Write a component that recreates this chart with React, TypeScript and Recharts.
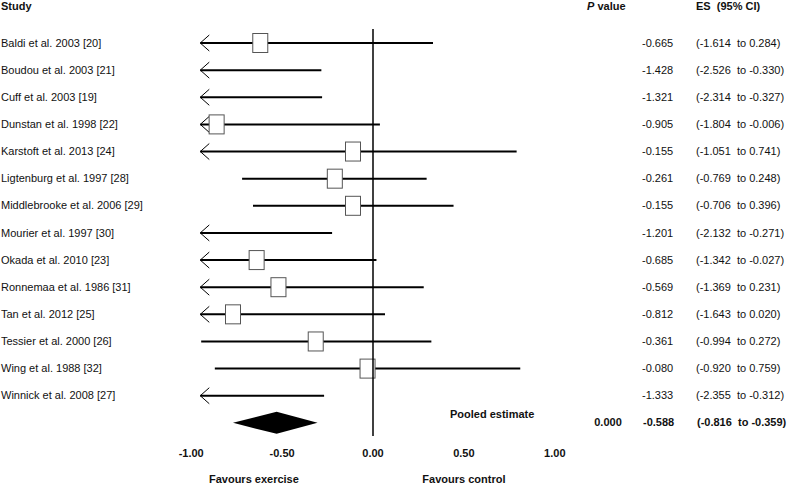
import React from 'react';
import { ComposedChart, Bar, XAxis, YAxis, ReferenceLine } from 'recharts';

const studies = [
  'Baldi et al. 2003 [20]',
  'Boudou et al. 2003 [21]',
  'Cuff et al. 2003 [19]',
  'Dunstan et al. 1998 [22]',
  'Karstoft et al. 2013 [24]',
  'Ligtenburg et al. 1997 [28]',
  'Middlebrooke et al. 2006 [29]',
  'Mourier et al. 1997 [30]',
  'Okada et al. 2010 [23]',
  'Ronnemaa et al. 1986 [31]',
  'Tan et al. 2012 [25]',
  'Tessier et al. 2000 [26]',
  'Wing et al. 1988 [32]',
  'Winnick et al. 2008 [27]',
];

const esLabels = [
  '-0.665', '-1.428', '-1.321', '-0.905', '-0.155', '-0.261', '-0.155',
  '-1.201', '-0.685', '-0.569', '-0.812', '-0.361', '-0.080', '-1.333',
];

const ciLabels = [
  '(-1.614  to 0.284)', '(-2.526  to -0.330)', '(-2.314  to -0.327)', '(-1.804  to -0.006)',
  '(-1.051  to 0.741)', '(-0.769  to 0.248)', '(-0.706  to 0.396)', '(-2.132  to -0.271)',
  '(-1.342  to -0.027)', '(-1.369  to 0.231)', '(-1.643  to 0.020)', '(-0.994  to 0.272)',
  '(-0.920  to 0.759)', '(-2.355  to -0.312)',
];

// positions as drawn in the figure, in axis units (the plot sits a little off its zero line)
const boxEst = [-0.62, -1.43, -1.32, -0.86, -0.11, -0.21, -0.11, -1.2, -0.64, -0.52, -0.77, -0.315, -0.03, -1.33];
const lineLow = [-0.95, -0.95, -0.95, -0.95, -0.95, -0.72, -0.66, -0.95, -0.95, -0.95, -0.95, -0.945, -0.87, -0.95];
const lineHigh = [0.33, -0.284, -0.28, 0.038, 0.79, 0.295, 0.443, -0.225, 0.019, 0.279, 0.066, 0.321, 0.81, -0.269];
const arrowLeft = [true, true, true, true, true, false, false, true, true, true, true, false, false, true];

const pooledLow = -0.77;
const pooledEst = -0.53;
const pooledHigh = -0.305;
const pooledP = '0.000';
const pooledEs = '-0.588';
const pooledCi = '(-0.816  to -0.359)';

const xTicks = [-1, -0.5, 0, 0.5, 1];
const favourTicks = [-0.655, 0.5];
const favourLabels = ['Favours exercise', 'Favours control'];

const FONT = 'Arial, "Liberation Sans", sans-serif';
const INK = '#111';

const rows = [
  ...studies.map((name, i) => ({
    name,
    range: [lineLow[i], lineHigh[i]],
    est: boxEst[i],
    arrow: arrowLeft[i],
    es: esLabels[i],
    ci: ciLabels[i],
    pooled: false,
  })),
  {
    name: 'Pooled estimate',
    range: [pooledLow, pooledHigh],
    est: pooledEst,
    arrow: false,
    es: pooledEs,
    ci: pooledCi,
    pooled: true,
  },
];

const ForestMark = (props: any) => {
  const { x, y, width, height, payload } = props;
  const cy = y + height / 2;
  const [lo, hi] = payload.range;
  const toX = (v: number) => x + ((v - lo) / (hi - lo)) * width;

  if (payload.pooled) {
    const cx = toX(payload.est);
    return (
      <polygon
        points={`${x},${cy} ${cx},${cy - 11} ${x + width},${cy} ${cx},${cy + 11}`}
        fill="#000"
      />
    );
  }

  const showBox = payload.est >= lo;
  const bx = toX(payload.est);
  return (
    <g>
      <line x1={x} y1={cy} x2={x + width} y2={cy} stroke="#000" strokeWidth={2} />
      {payload.arrow && (
        <polyline
          points={`${x + 9},${cy - 8} ${x},${cy} ${x + 9},${cy + 8}`}
          fill="none"
          stroke="#000"
          strokeWidth={1}
        />
      )}
      {showBox && (
        <rect x={bx - 7.5} y={cy - 9.5} width={15} height={19} fill="#fff" stroke="#555" strokeWidth={1} />
      )}
    </g>
  );
};

const RowTick = (props: any) => {
  const { y, index } = props;
  const row = rows[index];
  if (!row) return null;
  return (
    <g fontFamily={FONT} fontSize={11} fill={INK}>
      {index === 0 && (
        <g fontWeight="bold">
          <text x={1} y={5.5} dominantBaseline="central">Study</text>
          <text x={587} y={5.5} dominantBaseline="central">
            <tspan fontStyle="italic">P</tspan> value
          </text>
          <text x={696} y={5.5} dominantBaseline="central" style={{ whiteSpace: 'pre' }}>
            ES  (95% CI)
          </text>
        </g>
      )}
      {row.pooled ? (
        <g fontWeight="bold">
          <text x={450} y={y - 8} dominantBaseline="central">{row.name}</text>
          <text x={608} y={y} textAnchor="middle" dominantBaseline="central">{pooledP}</text>
          <text x={643} y={y} dominantBaseline="central">{row.es}</text>
          <text x={697} y={y} dominantBaseline="central" style={{ whiteSpace: 'pre' }}>{row.ci}</text>
        </g>
      ) : (
        <g>
          <text x={1} y={y} dominantBaseline="central">{row.name}</text>
          <text x={642} y={y} dominantBaseline="central">{row.es}</text>
          <text x={696} y={y} dominantBaseline="central" style={{ whiteSpace: 'pre' }}>{row.ci}</text>
        </g>
      )}
    </g>
  );
};

export default function App() {
  return (
    <div style={{ position: 'absolute', left: 0, top: 0, width: 788, height: 484, background: '#fff' }}>
      <ComposedChart
        width={788}
        height={484}
        data={rows}
        layout="vertical"
        margin={{ top: 29, right: 215, bottom: 0, left: 0 }}
      >
        <XAxis
          xAxisId="b"
          type="number"
          domain={[-1.1, 1.1]}
          allowDataOverflow
          ticks={favourTicks}
          interval={0}
          tickFormatter={(v: number) => favourLabels[favourTicks.indexOf(v)]}
          axisLine={false}
          tickLine={false}
          tickMargin={3.5}
          height={18}
          tick={{ fontFamily: FONT, fontSize: 11, fontWeight: 'bold', fill: INK }}
        />
        <XAxis
          xAxisId="a"
          type="number"
          domain={[-1.1, 1.1]}
          allowDataOverflow
          ticks={xTicks}
          interval={0}
          tickFormatter={(v: number) => v.toFixed(2)}
          axisLine={false}
          tickLine={false}
          tickMargin={7.5}
          height={30}
          tick={{ fontFamily: FONT, fontSize: 11, fontWeight: 'bold', fill: INK }}
        />
        <YAxis
          yAxisId="left"
          type="category"
          dataKey="name"
          width={173}
          interval={0}
          axisLine={false}
          tickLine={false}
          tick={<RowTick />}
        />
        <ReferenceLine xAxisId="a" yAxisId="left" x={0} stroke="#000" strokeWidth={1.5} />
        <Bar
          xAxisId="a"
          yAxisId="left"
          dataKey="range"
          barSize={22}
          isAnimationActive={false}
          shape={(p: any) => <ForestMark {...p} />}
        />
      </ComposedChart>
    </div>
  );
}
